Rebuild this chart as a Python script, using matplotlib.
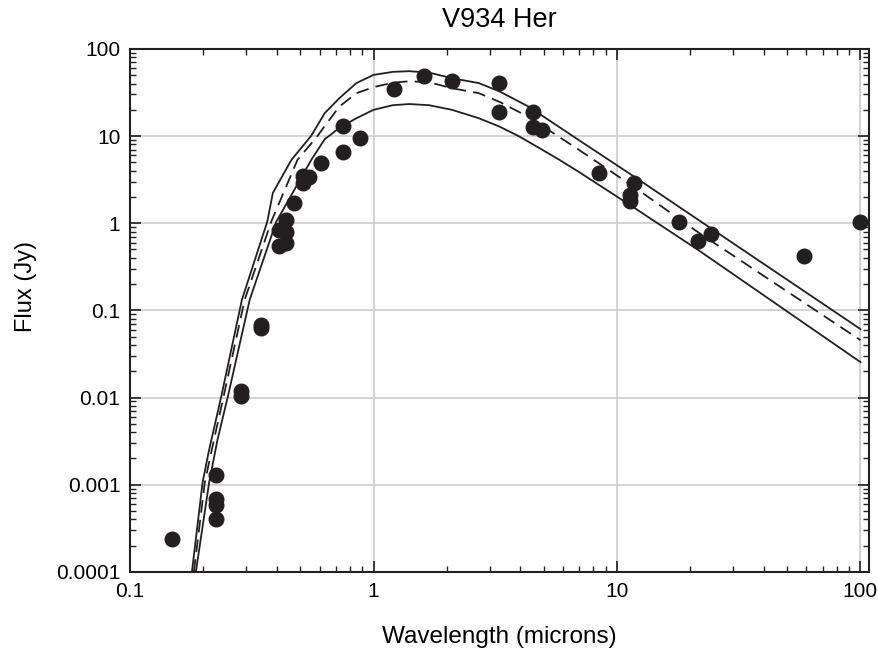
import matplotlib.pyplot as plt
from matplotlib.ticker import LogLocator, FixedLocator, FixedFormatter, NullFormatter

plt.rcParams['font.family'] = ['Liberation Sans', 'DejaVu Sans']

# observed photometry (microns, Jy)
wl_obs = [0.149, 0.225, 0.225, 0.225, 0.225, 0.285, 0.285, 0.344, 0.344,
          0.41, 0.41, 0.435, 0.435, 0.435, 0.47, 0.515, 0.515, 0.545, 0.61,
          0.746, 0.746, 0.88, 1.21, 1.61, 2.1, 3.27, 3.27, 4.5, 4.5, 4.92,
          8.4, 11.75, 11.3, 11.3, 17.9, 21.5, 24.4, 58.5, 100.0]
flux_obs = [0.00024, 0.0013, 0.00068, 0.00058, 0.0004, 0.012, 0.0105, 0.068, 0.062,
            0.84, 0.55, 1.09, 0.8, 0.6, 1.7, 3.5, 2.9, 3.4, 4.9,
            12.9, 6.6, 9.5, 34.8, 49.4, 43.0, 40.5, 19.1, 18.8, 12.6, 11.8,
            3.75, 2.88, 2.1, 1.8, 1.03, 0.63, 0.755, 0.415, 1.03]

# model curves
wl_up = [0.1795, 0.1985, 0.2112, 0.2373, 0.288, 0.366, 0.386, 0.46, 0.555, 0.63,
         0.724, 0.85, 1.0, 1.2, 1.4, 1.69, 2.1, 2.71, 3.3, 4.33, 6.95, 12.0, 26.0, 100.0]
fl_up = [0.0001, 0.00106, 0.00252, 0.0105, 0.1325, 1.04, 2.23, 5.33, 10.1, 18.3,
         27.2, 40.5, 50.3, 54.5, 55.5, 53.5, 46.1, 40.5, 32.4, 21.8, 9.04, 3.3, 0.77, 0.061]

wl_mid = [0.1828, 0.2027, 0.2166, 0.2425, 0.2956, 0.38, 0.487, 0.59, 0.63,
          0.724, 0.85, 1.0, 1.2, 1.4, 1.69, 2.1, 2.71, 3.3, 4.33, 6.95, 12.0, 21.5, 100.0]
fl_mid = [0.0001, 0.00106, 0.00252, 0.0105, 0.1325, 1.04, 5.33, 10.1, 13.0,
          21.8, 31.0, 36.4, 41.0, 42.5, 41.5, 35.4, 31.0, 24.6, 16.6, 7.0, 2.5, 0.79, 0.0455]

wl_lo = [0.1863, 0.2112, 0.2286, 0.2526, 0.31, 0.3985, 0.555, 0.63, 0.659,
         0.724, 0.85, 1.0, 1.2, 1.4, 1.69, 2.1, 2.71, 3.3, 3.94, 4.33, 5.76, 6.95, 12.0, 21.5, 100.0]
fl_lo = [0.0001, 0.00106, 0.00328, 0.0105, 0.1325, 1.04, 5.33, 9.2, 10.1,
         12.4, 16.0, 20.0, 22.6, 23.3, 22.6, 20.0, 16.0, 12.8, 10.0, 8.6, 5.4, 3.9, 1.45, 0.495, 0.0255]

fig = plt.figure(figsize=(8.79, 6.52), dpi=100)
ax = fig.add_axes([0.148, 0.123, 0.841, 0.802])

ax.plot(wl_up, fl_up, color='#231f20', lw=1.3)
ax.plot(wl_mid, fl_mid, color='#231f20', lw=1.3, dashes=(7, 4))
ax.plot(wl_lo, fl_lo, color='#231f20', lw=1.3)
ax.plot(wl_obs, flux_obs, 'o', color='#231f20', ms=10.5, zorder=5)

ax.set_xscale('log')
ax.set_yscale('log')
ax.set_xlim(0.1, 108.8)
ax.set_ylim(0.0001, 100)

xt = [0.1, 1, 10, 100]
yt = [0.0001, 0.001, 0.01, 0.1, 1, 10, 100]
ax.xaxis.set_major_locator(FixedLocator(xt))
ax.xaxis.set_major_formatter(FixedFormatter(['0.1', '1', '10', '100']))
ax.yaxis.set_major_locator(FixedLocator(yt))
ax.yaxis.set_major_formatter(FixedFormatter(['0.0001', '0.001', '0.01', '0.1', '1', '10', '100']))
ax.xaxis.set_minor_locator(LogLocator(base=10, subs=range(2, 10)))
ax.yaxis.set_minor_locator(LogLocator(base=10, subs=range(2, 10)))
ax.xaxis.set_minor_formatter(NullFormatter())
ax.yaxis.set_minor_formatter(NullFormatter())

ax.grid(True, which='major', color='#cccccc', lw=1.2)
ax.set_axisbelow(True)
ax.tick_params(which='both', direction='in', top=True, right=True, color='#231f20')
ax.tick_params(which='major', length=8, width=1.2, labelsize=15, pad=7)
ax.tick_params(which='minor', length=4.5, width=1)
for s in ax.spines.values():
    s.set_linewidth(1.5)
    s.set_color('#231f20')

ax.set_title('V934 Her', fontsize=19.5, pad=16)
ax.set_xlabel('Wavelength (microns)', fontsize=17.5, labelpad=18)
ax.set_ylabel('Flux (Jy)', fontsize=17)
ax.yaxis.set_label_coords(-0.126, 0.545)

plt.savefig('out.png', dpi=100)
plt.close()
